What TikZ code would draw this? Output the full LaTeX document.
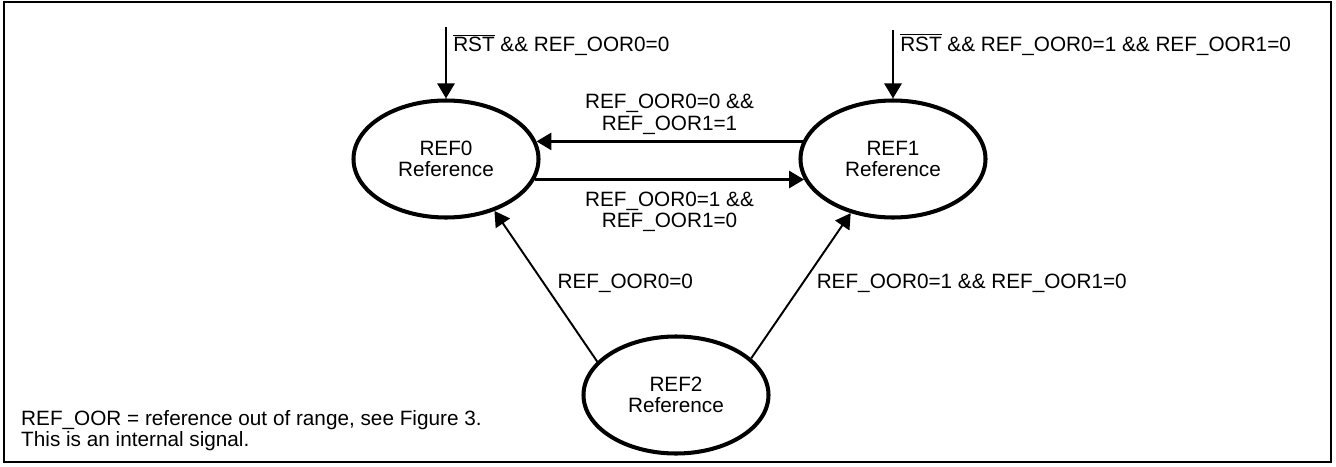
\documentclass[tikz,border=0pt]{standalone}
\usepackage{fontspec}
\setmainfont{Liberation Sans}
\usetikzlibrary{shapes.geometric, arrows.meta, positioning}

\tikzset{
  state/.style={ellipse, draw, line width=2.3pt, minimum width=3.7cm, minimum height=2.34cm, align=center},
  trans/.style={-{Triangle[length=0.3cm, width=0.34cm]}, line width=1.6pt},
  thintrans/.style={trans, line width=1.1pt},
  lbl/.style={align=center}
}

\begin{document}
\begin{tikzpicture}[font=\fontsize{11.8}{12}\selectfont]
\useasboundingbox (0,0) rectangle (26.72,-9.32);
% Frame
\draw[line width=1.5pt] (0.08,-0.04) rectangle (26.62,-9.24);

% States
\node[state] (ref0) at (8.92,-3.18) {REF0\\Reference};
\node[state] (ref1) at (17.86,-3.18) {REF1\\Reference};
\node[state] (ref2) at (13.52,-7.90) {REF2\\Reference};

% Reset entries
\coordinate (rst0) at (8.92,-0.54);
\coordinate (rst1) at (17.86,-0.60);
\draw[trans] (rst0) -- (ref0.north) node[pos=0.25, anchor=west] (rstlbl0) {$\overline{\mbox{RST}}$ \&\& REF\_OOR0=0};
\draw[trans] (rst1) -- (ref1.north) node[pos=0.21, anchor=west] (rstlbl1) {$\overline{\mbox{RST}}$ \&\& REF\_OOR0=1 \&\& REF\_OOR1=0};

% Transitions between REF0 and REF1
\draw[trans] (ref1.169) -- (ref0.11) node[midway, above, lbl] (lbl10) {REF\_OOR0=0 \&\&\\REF\_OOR1=1};
\draw[trans] (ref0.-13.8) -- (ref1.193.8) node[midway, below, lbl, yshift=-0.1cm] (lbl01) {REF\_OOR0=1 \&\&\\REF\_OOR1=0};

% Transitions out of REF2
\draw[thintrans] (ref2.157) -- (ref0.-47) node[pos=0.52, anchor=west, xshift=0.14cm] (lbl20) {REF\_OOR0=0};
\draw[thintrans] (ref2.26) -- (ref1.232) node[pos=0.52, anchor=west, xshift=0.14cm] (lbl21) {REF\_OOR0=1 \&\& REF\_OOR1=0};

% Note
\node[anchor=west, align=left] (note) at (0.30,-8.62) {REF\_OOR = reference out of range, see Figure 3.\\This is an internal signal.};
\end{tikzpicture}
\end{document}
